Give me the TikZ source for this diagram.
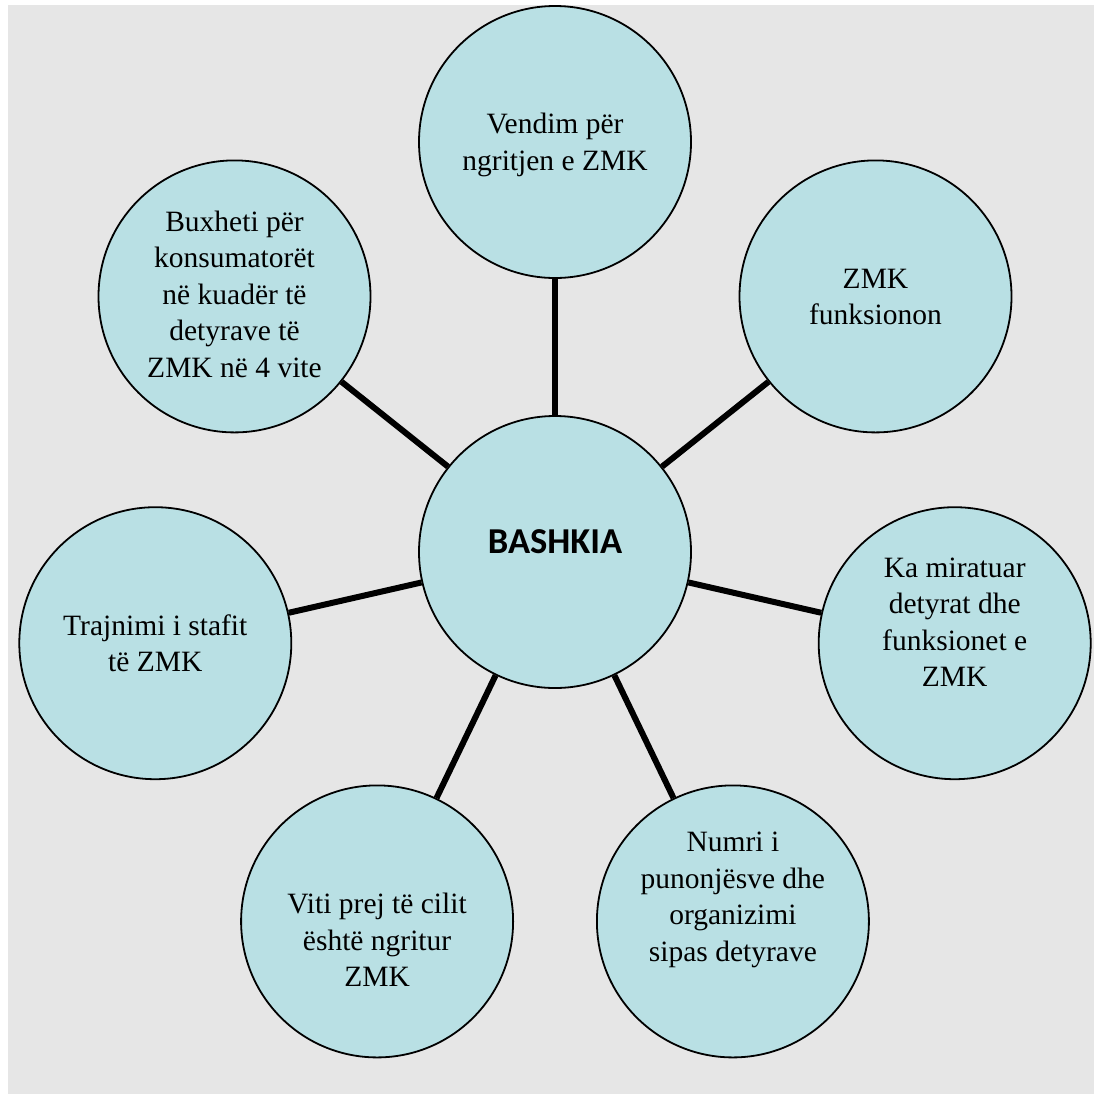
\documentclass[tikz,border=0pt]{standalone}
\usepackage{fontspec}
\setmainfont{Liberation Serif}
\newfontfamily\calfont{Carlito}
\definecolor{bggray}{HTML}{E6E6E6}
\definecolor{bubble}{HTML}{B9E0E4}
\begin{document}
\begin{tikzpicture}[x=1pt,y=-1pt,
  bub/.style={circle, draw=black, line width=1.8pt, fill=bubble, minimum size=272pt, inner sep=0pt},
  txt/.style={align=center, font=\fontsize{29.5}{36.5}\selectfont, inner sep=0pt},
  spoke/.style={line width=6pt}]
\useasboundingbox (0,0) rectangle (1094,1093);
\fill[white] (0,0) rectangle (1094,1093);
\fill[bggray] (8,5) rectangle (1110,1110);

\node[bub] (c) at (555,552) {};
\node[bub] (n1) at (555,142) {};
\node[bub] (n2) at (875.5,296.4) {};
\node[bub] (n3) at (954.7,643.2) {};
\node[bub] (n4) at (732.9,921.4) {};
\node[bub] (n5) at (377.1,921.4) {};
\node[bub] (n6) at (155.3,643.2) {};
\node[bub] (n7) at (234.5,296.4) {};

\foreach \n in {n1,n2,n3,n4,n5,n6,n7} \draw[spoke] (c) -- (\n);

\node[font=\calfont\bfseries\fontsize{36.5}{42}\selectfont] (tc) at (555,542) {BASHKIA};
\node[txt] (t1) at (555,145) {Vendim për\\ngritjen e ZMK};
\node[txt] (t2) at (875.5,297) {ZMK\\funksionon};
\node[txt] (t3) at (954.7,622) {Ka miratuar\\detyrat dhe\\funksionet e\\ZMK};
\node[txt] (t4) at (732.9,900) {Numri i\\punonjësve dhe\\organizimi\\sipas detyrave};
\node[txt] (t5) at (377.1,940) {Viti prej të cilit\\është ngritur\\ZMK};
\node[txt] (t6) at (155.3,643) {Trajnimi i stafit\\të ZMK};
\node[txt] (t7) at (234.5,294) {Buxheti për\\konsumatorët\\në kuadër të\\detyrave të\\ZMK në 4 vite};
\end{tikzpicture}
\end{document}
